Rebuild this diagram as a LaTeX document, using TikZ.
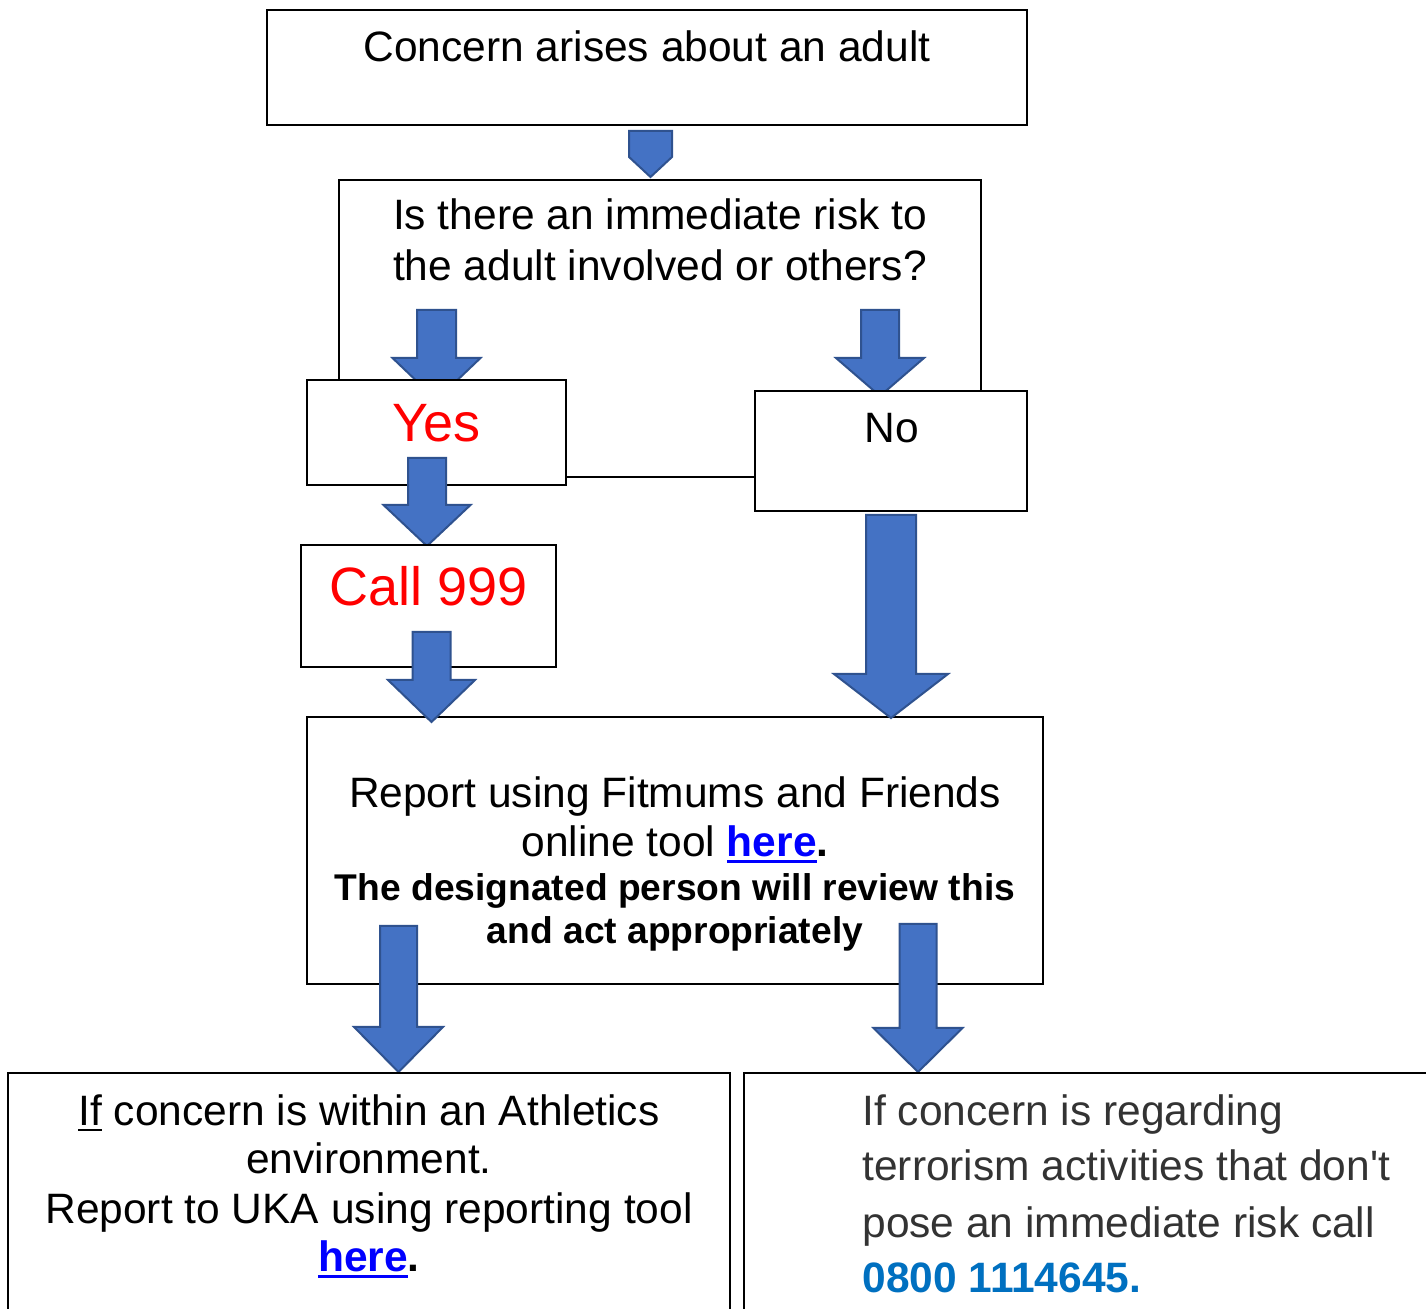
\documentclass[tikz,border=0pt]{standalone}
\usepackage{fontspec}
\setmainfont{Liberation Sans}
\usetikzlibrary{calc}
\definecolor{arrowBlue}{RGB}{68,114,196}
\definecolor{arrowEdge}{RGB}{47,82,143}
\definecolor{alertRed}{RGB}{255,0,0}
\definecolor{linkBlue}{RGB}{0,0,255}
\definecolor{phoneBlue}{RGB}{0,112,192}
\definecolor{textGrey}{RGB}{51,51,51}
% underline with a rule of given thickness
\newcommand{\ulrule}[2]{\setbox0\hbox{#2}\rlap{\rule[-3pt]{\wd0}{#1}}\box0\relax}
\newcommand{\weblink}[1]{{\color{linkBlue}\ulrule{1.5pt}{\textbf{#1}}}}
% block arrow: from, tip, shaft half width, head half width, head length
\newcommand{\blockarrow}[5]{%
  \fill[arrowBlue, draw=arrowEdge, line width=1pt, line join=miter]
    let \p1=(#1), \p2=(#2) in
    (\x1-#3,\y1) -- (\x1+#3,\y1) -- (\x1+#3,\y2+#5) -- (\x1+#4,\y2+#5)
    -- (\x2,\y2) -- (\x1-#4,\y2+#5) -- (\x1-#3,\y2+#5) -- cycle;}

\begin{document}
\begin{tikzpicture}[x=0.5pt, y=-0.5pt,
    box/.style={draw=black, line width=1pt, fill=white, inner sep=0pt},
    txt/.style={inner sep=0pt, align=center, anchor=base, font=\fontsize{21.25pt}{24.5pt}\selectfont},
    redtxt/.style={txt, text=alertRed, font=\fontsize{27pt}{30pt}\selectfont}]
  \useasboundingbox (0,0) rectangle (1426,1309);
  \clip (0,0) rectangle (1426,1309);

  % boxes and arrows, back to front
  \node[box, minimum width=380pt, minimum height=57.5pt] (start) at (647,67.5) {};
  \node[txt] (startTxt) at (647,62) {Concern arises about an adult};

  \coordinate (a1s) at (650.5,131);
  \coordinate (a1t) at (650.5,177);
  \blockarrow{a1s}{a1t}{10.75pt}{10.75pt}{10pt}

  \node[box, minimum width=321pt, minimum height=148.5pt] (question) at (660,328.5) {};
  \node[txt, font=\fontsize{21.25pt}{25.5pt}\selectfont] (questionTxt) at (660,281)
    {Is there an immediate risk to\\the adult involved or others?};

  \coordinate (a2s) at (436.5,310);
  \coordinate (a2t) at (436.5,400);
  \coordinate (a3s) at (880,310);
  \coordinate (a3t) at (880,396);
  \blockarrow{a2s}{a2t}{9.75pt}{22pt}{21pt}
  \blockarrow{a3s}{a3t}{9.5pt}{22pt}{19pt}

  \node[box, minimum width=129.5pt, minimum height=52.5pt] (yes) at (436.5,432.5) {};
  \node[redtxt] (yesTxt) at (436.5,442) {Yes};
  \node[box, minimum width=136pt, minimum height=60pt] (no) at (891,451) {};
  \node[txt] (noTxt) at (892,443) {No};

  \coordinate (a4s) at (427,458);
  \coordinate (a4t) at (427,546);
  \blockarrow{a4s}{a4t}{9.5pt}{21.75pt}{20.5pt}

  \node[box, minimum width=127.5pt, minimum height=61pt] (call) at (428.5,606) {};
  \node[redtxt] (callTxt) at (428.5,606) {Call 999};

  \node[box, minimum width=368pt, minimum height=133.5pt] (report) at (675,850.5) {};
  \node[txt] (reportTxt) at (675,857)
    {Report using Fitmums and Friends\\online tool \weblink{here}\textbf{.}};
  \node[txt, font=\fontsize{18.6pt}{21.5pt}\selectfont\bfseries] (reviewTxt) at (675,944)
    {The designated person will review this\\and act appropriately};

  \coordinate (a5s) at (431.5,632);
  \coordinate (a5t) at (431.5,722);
  \coordinate (a6s) at (891,515);
  \coordinate (a6t) at (891,718);
  \blockarrow{a5s}{a5t}{9.5pt}{21.75pt}{21pt}
  \blockarrow{a6s}{a6t}{12.5pt}{28.5pt}{22pt}

  \coordinate (a7s) at (398.5,926);
  \coordinate (a7t) at (398.5,1072);
  \coordinate (a8s) at (918,924);
  \coordinate (a8t) at (918,1072);
  \blockarrow{a7s}{a7t}{9.25pt}{22.25pt}{22.5pt}
  \blockarrow{a8s}{a8t}{9.25pt}{22.25pt}{22pt}

  \node[box, minimum width=361pt, minimum height=133.5pt] (athletics) at (369,1206.5) {};
  \node[txt] (athleticsTxt) at (369,1272)
    {\ulrule{1pt}{If} concern is within an Athletics\\environment.\\Report to UKA using reporting tool\\\weblink{here}\textbf{.}};
  \node[box, minimum width=348pt, minimum height=133.5pt] (terror) at (1092,1206.5) {};
  \node[txt, align=left, anchor=base west, text=textGrey, font=\fontsize{21.25pt}{28pt}\selectfont] (terrorTxt) at (862,1293)
    {If concern is regarding\\terrorism activities that don\textquotesingle t\\pose an immediate risk call\\{\color{phoneBlue}\bfseries 0800 1114645.}};
\end{tikzpicture}
\end{document}
